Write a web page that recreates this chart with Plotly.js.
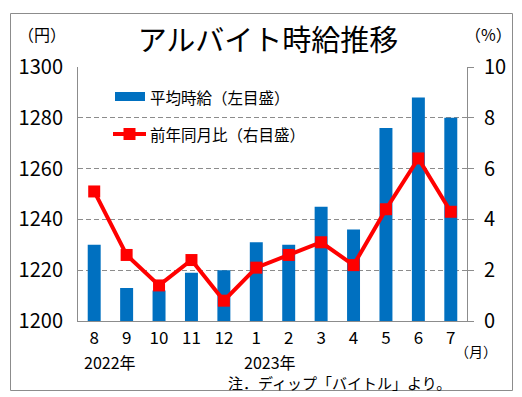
<!DOCTYPE html>
<html>
<head>
<meta charset="utf-8">
<script src="https://cdn.plot.ly/plotly-3.0.1.min.js"></script>
<style>
  html, body { margin: 0; padding: 0; background: #fff; }
  #chart { width: 522px; height: 397px; }
</style>
</head>
<body>
<div id="chart"></div>
<script>
// ---- data ----
const months = ["8", "9", "10", "11", "12", "1", "2", "3", "4", "5", "6", "7"];
const wage = [1230, 1213, 1212, 1219, 1220, 1231, 1230, 1245, 1236, 1276, 1288, 1280];
const yoy = [5.1, 2.6, 1.4, 2.4, 0.8, 2.1, 2.6, 3.1, 2.2, 4.4, 6.4, 4.3];
const leftTicks = [1200, 1220, 1240, 1260, 1280, 1300];
const rightTicks = [0, 2, 4, 6, 8, 10];
const wageName = "平均時給（左目盛）";
const yoyName = "前年同月比（右目盛）";
const titleText = "アルバイト時給推移";

// ---- layout helpers (pixel -> paper) ----
const W = 522, H = 397;
const M = { l: 78, r: 55, t: 67, b: 76 };
const PW = W - M.l - M.r, PH = H - M.t - M.b;
const px = v => (v - M.l) / PW;
const py = v => (H - M.b - v) / PH;

const FONT = '"Noto Sans CJK JP", "Noto Sans", sans-serif';
const BLUE = '#0070C0', RED = '#FF0000', GRAY = '#8c8c8c';

const traces = [
  {
    type: 'bar', x: months, y: wage, name: wageName,
    marker: { color: BLUE }, yaxis: 'y', hoverinfo: 'skip'
  },
  {
    type: 'scatter', mode: 'lines+markers', x: months, y: yoy, name: yoyName,
    yaxis: 'y2', line: { color: RED, width: 4 },
    marker: { symbol: 'square', size: 12, color: RED }, hoverinfo: 'skip'
  }
];

const ann = (text, x, y, size, opts) => Object.assign({
  text: text, xref: 'paper', yref: 'paper', x: px(x), y: py(y),
  showarrow: false, font: { family: FONT, size: size, color: '#000' },
  xanchor: 'center', yanchor: 'middle', borderpad: 0
}, opts || {});

const layout = {
  width: W, height: H,
  margin: M,
  paper_bgcolor: '#fff', plot_bgcolor: '#fff',
  showlegend: false,
  bargap: 0.6,
  font: { family: FONT, color: '#000' },
  title: {
    text: titleText, xref: 'container', yref: 'container',
    x: 268 / W, y: 1 - 41 / H, xanchor: 'center', yanchor: 'middle',
    font: { family: FONT, size: 29, color: '#000' }
  },
  xaxis: {
    type: 'category', range: [-0.5, 11.5],
    showline: true, linecolor: GRAY, linewidth: 1,
    ticks: '', showgrid: false,
    tickfont: { family: FONT, size: 17, color: '#000' },
    ticklabelstandoff: 2
  },
  yaxis: {
    range: [1200, 1300], tickvals: leftTicks,
    showline: true, linecolor: GRAY, linewidth: 1,
    ticks: '', showgrid: true, gridcolor: GRAY, griddash: '5px,3px', gridwidth: 1,
    zeroline: false,
    tickfont: { family: FONT, size: 20, color: '#000' },
    ticklabelstandoff: 10
  },
  yaxis2: {
    overlaying: 'y', side: 'right', range: [0, 10], tickvals: rightTicks,
    showline: true, linecolor: GRAY, linewidth: 1,
    ticks: 'outside', ticklen: 6, tickcolor: GRAY,
    showgrid: false, zeroline: false,
    tickfont: { family: FONT, size: 20, color: '#000' },
    ticklabelstandoff: 6
  },
  shapes: [
    // outer frame
    { type: 'rect', xref: 'paper', yref: 'paper',
      x0: px(10.5), x1: px(512.5), y0: py(390.5), y1: py(13.5),
      line: { color: '#8c8c8c', width: 1 }, layer: 'below' },
    // legend swatch: bar
    { type: 'rect', xref: 'paper', yref: 'paper',
      x0: px(115), x1: px(145), y0: py(101), y1: py(92),
      fillcolor: BLUE, line: { width: 0 } },
    // legend swatch: line + marker
    { type: 'line', xref: 'paper', yref: 'paper',
      x0: px(113), x1: px(146), y0: py(134), y1: py(134),
      line: { color: RED, width: 4 } },
    { type: 'rect', xref: 'paper', yref: 'paper',
      x0: px(123.5), x1: px(135.5), y0: py(140), y1: py(128),
      fillcolor: RED, line: { width: 0 } }
  ],
  annotations: [
    ann(wageName, 149, 97, 15.5, { xanchor: 'left' }),
    ann(yoyName, 149, 134, 15.5, { xanchor: 'left' }),
    ann('（円）', 42, 34, 16),
    ann('（%）', 489, 34, 16),
    ann('（月）', 476, 351, 14),
    ann('2022年', 83, 362, 16, { xanchor: 'left' }),
    ann('2023年', 243, 362, 16, { xanchor: 'left' }),
    ann('注．ディップ「バイトル」より。', 227, 382, 15, { xanchor: 'left' })
  ]
};

Plotly.newPlot('chart', traces, layout, { staticPlot: true, displayModeBar: false });
</script>
</body>
</html>
